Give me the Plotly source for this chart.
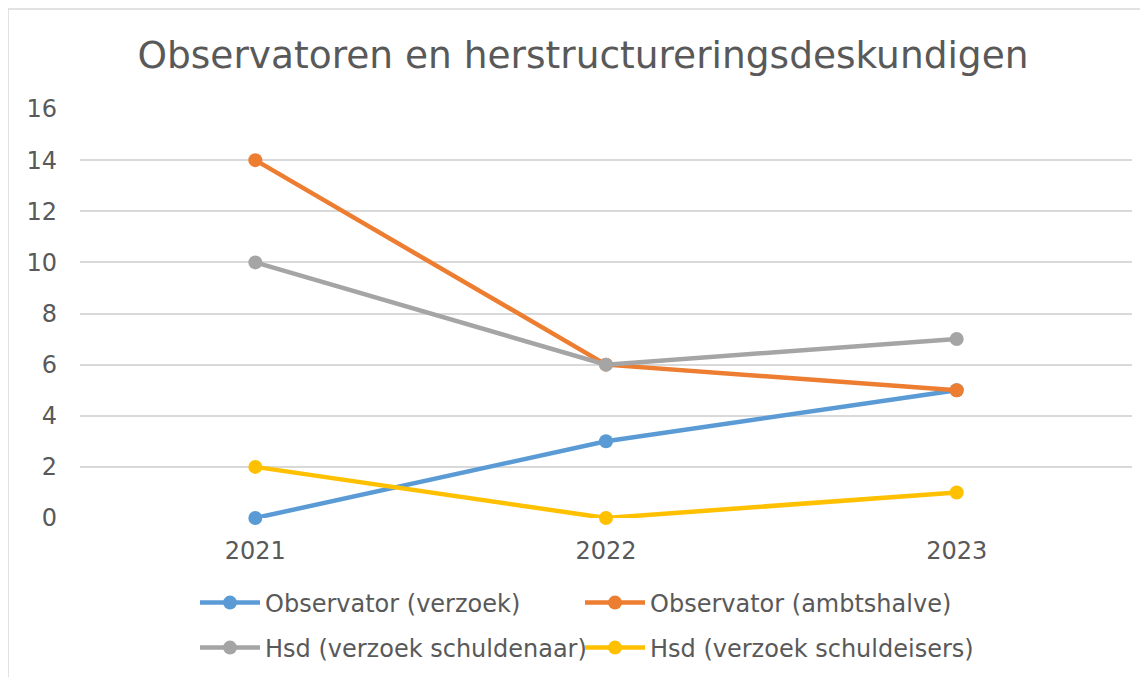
import plotly.graph_objects as go

# categories and series
years = ["2021", "2022", "2023"]
observator_verzoek = [0, 3, 5]
observator_ambtshalve = [14, 6, 5]
hsd_schuldenaar = [10, 6, 7]
hsd_schuldeisers = [2, 0, 1]

series_names = [
    "Observator (verzoek)",
    "Observator (ambtshalve)",
    "Hsd (verzoek schuldenaar)",
    "Hsd (verzoek schuldeisers)",
]
series_values = [observator_verzoek, observator_ambtshalve,
                 hsd_schuldenaar, hsd_schuldeisers]
colors = ["#5B9BD5", "#ED7D31", "#A5A5A5", "#FFC000"]

FONT = "DejaVu Sans"
TEXT = "#595959"
GRID = "#D9D9D9"

# page has an 8px body margin, so the figure is laid out 8px up/left
OFF = 8
W, H = 1148, 677
ML, MR, MT, MB = 80 - OFF, 16 + OFF, 109 - OFF, 159 + OFF
plot_w = W - ML - MR
plot_h = H - MT - MB


def px_x(sx):
    return (sx - OFF - ML) / plot_w


def px_y(sy):
    return (H - MB - (sy - OFF)) / plot_h


# one legend per entry so the 2x2 grid sits where Excel put it
legend_ids = ["legend", "legend2", "legend3", "legend4"]
legend_pos = [(195, 603), (580, 603), (195, 648), (580, 648)]

fig = go.Figure()
for name, vals, col, lg in zip(series_names, series_values, colors, legend_ids):
    fig.add_trace(go.Scatter(
        x=years, y=vals, name=name, mode="lines+markers",
        line=dict(color=col, width=4.5),
        marker=dict(color=col, size=14),
        cliponaxis=False,
        legend=lg,
    ))

# light grey chart-area border (Excel style)
fig.add_shape(
    type="rect", xref="paper", yref="paper", layer="below",
    x0=px_x(8), x1=1.2, y0=-1.0, y1=px_y(9),
    line=dict(color=GRID, width=1.5), fillcolor="rgba(0,0,0,0)",
)

legend_style = dict(
    orientation="h", xanchor="left", yanchor="middle", itemwidth=60,
    font=dict(family=FONT, size=24, color=TEXT),
    bgcolor="rgba(0,0,0,0)",
)
legends = {lg: dict(x=px_x(sx), y=px_y(sy), **legend_style)
           for lg, (sx, sy) in zip(legend_ids, legend_pos)}

fig.update_layout(
    width=W, height=H,
    margin=dict(l=ML, r=MR, t=MT, b=MB),
    paper_bgcolor="white", plot_bgcolor="white",
    font=dict(family=FONT, color=TEXT, size=24),
    title=dict(
        text="Observatoren en herstructureringsdeskundigen",
        x=(583 - OFF) / W, xanchor="center", xref="container",
        y=1 - (55 - OFF) / H, yanchor="middle", yref="container",
        font=dict(family=FONT, size=37.5, color=TEXT),
    ),
    xaxis=dict(
        type="category", range=[-0.5, 2.5],
        showgrid=False, showline=False, zeroline=False,
        ticks="", ticklabelstandoff=16,
        tickfont=dict(size=24, color=TEXT),
    ),
    yaxis=dict(
        range=[0, 16], dtick=2, tick0=0,
        showgrid=True, gridcolor=GRID, gridwidth=1.5,
        zeroline=False, showline=False,
        ticks="", ticklabelstandoff=22,
        tickfont=dict(size=24, color=TEXT),
    ),
    showlegend=True,
    **legends,
)

fig.write_html("out.html")
